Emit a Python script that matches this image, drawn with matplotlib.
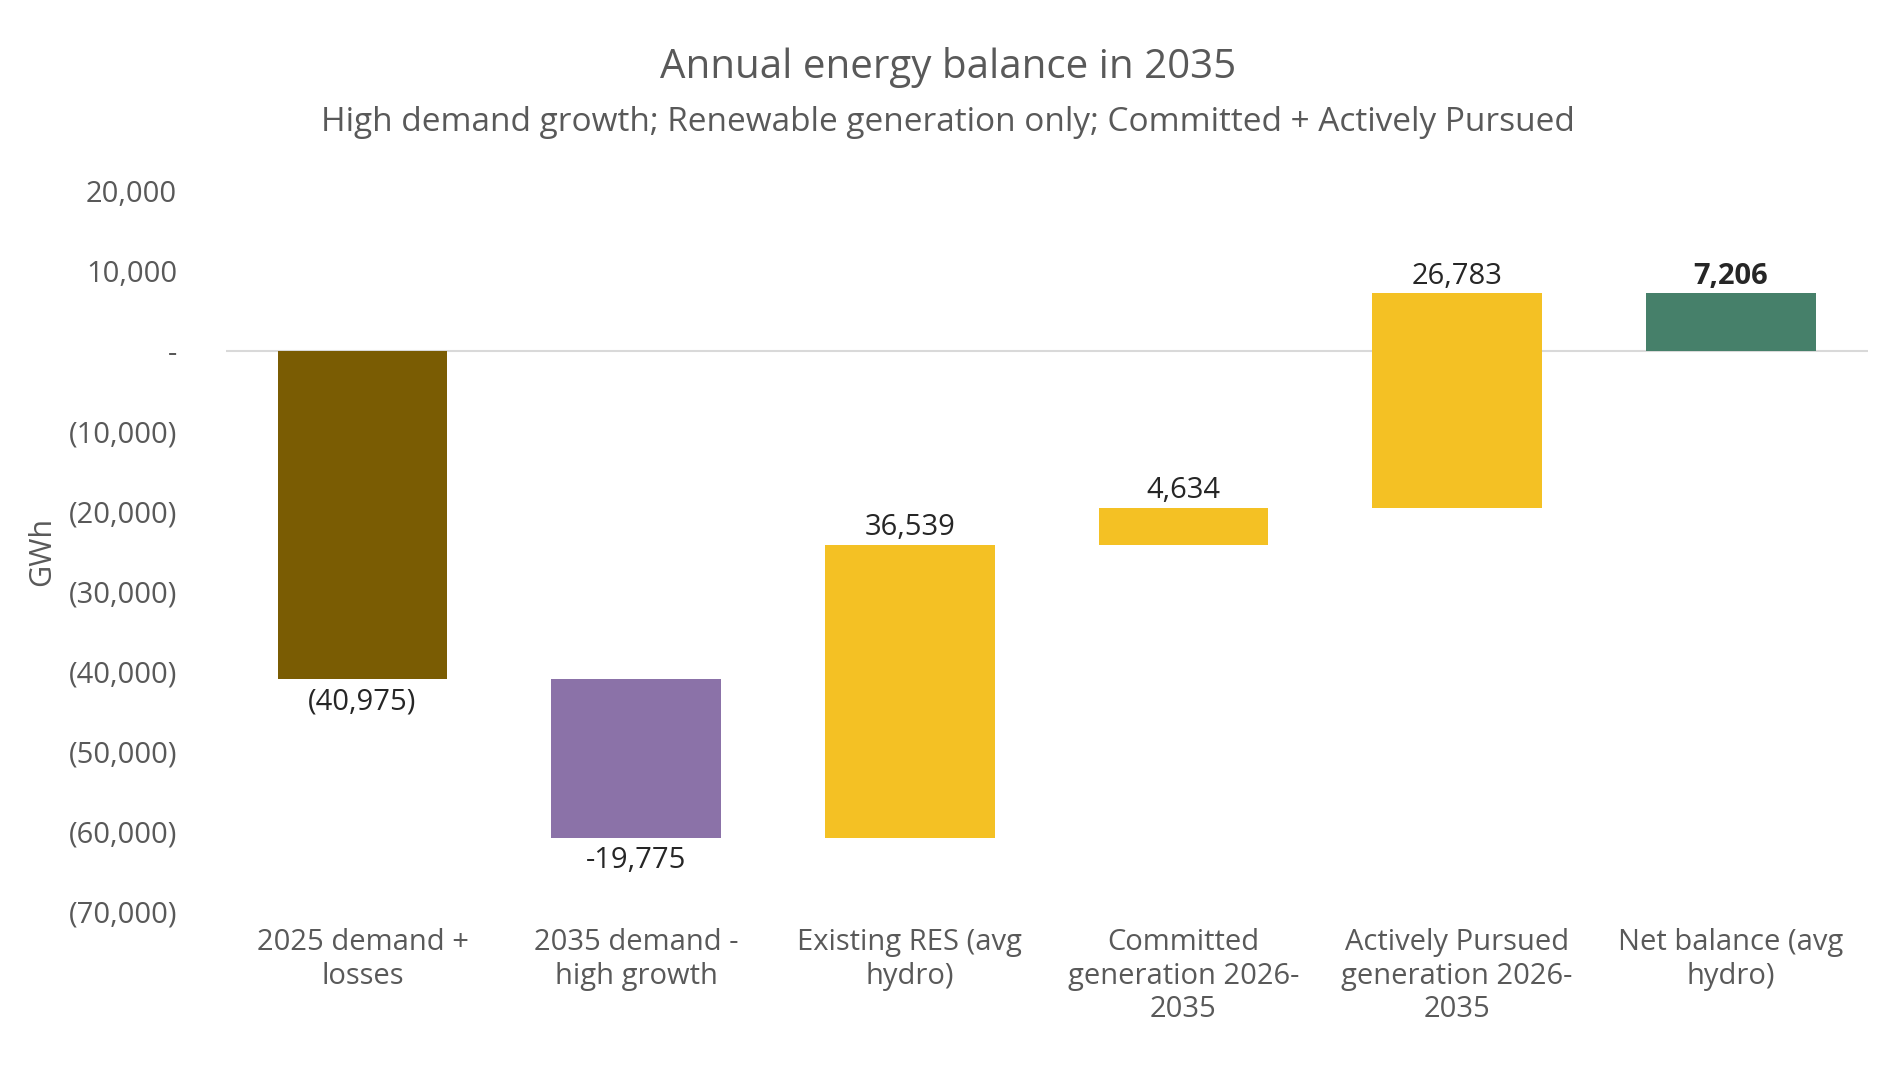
import matplotlib.pyplot as plt
import numpy as np

plt.rcParams['font.family'] = ['Open Sans', 'DejaVu Sans']

categories = ['2025 demand +\nlosses', '2035 demand -\nhigh growth', 'Existing RES (avg\nhydro)',
              'Committed\ngeneration 2026-\n2035', 'Actively Pursued\ngeneration 2026-\n2035',
              'Net balance (avg\nhydro)']
steps = [-40975, -19775, 36539, 4634, 26783]
net = 7206
labels = ['(40,975)', '-19,775', '36,539', '4,634', '26,783', '7,206']
colors = ['#7A5C03', '#8B72A8', '#F4C124', '#F4C124', '#F4C124', '#46806A']

starts = np.concatenate([[0], np.cumsum(steps)[:-1]])
ends = np.cumsum(steps)
bottoms = list(np.minimum(starts, ends)) + [0]
heights = list(np.abs(steps)) + [net]

fig = plt.figure(figsize=(18.96, 10.84), dpi=100)
ax = fig.add_axes([0.119, 0.159, 0.866, 0.665])
x = np.arange(len(categories))
ax.bar(x, heights, bottom=bottoms, width=0.62, color=colors, zorder=2)
ax.axhline(0, color='#D9D9D9', lw=1.5, zorder=1)

for i in range(len(categories)):
    top = bottoms[i] + heights[i]
    if i < 2:
        ax.text(i, bottoms[i] - 1000, labels[i], ha='center', va='top', fontsize=21, color='#262626')
    else:
        ax.text(i, top + 300, labels[i], ha='center', va='bottom', fontsize=21, color='#262626',
                fontweight='bold' if i == 5 else 'normal')

ax.set_ylim(-70000, 20000)
ax.set_xlim(-0.5, 5.5)
ticks = np.arange(-70000, 20001, 10000)
ax.set_yticks(ticks)
ax.set_yticklabels(['-' if t == 0 else (f'({-t:,})' if t < 0 else f'{t:,}') for t in ticks])
ax.set_xticks(x)
ax.set_xticklabels(categories)
ax.tick_params(length=0, labelsize=21, colors='#595959', pad=12)
ax.tick_params(axis='y', pad=35)
ax.set_ylabel('GWh', fontsize=22, color='#595959', labelpad=8)
for s in ax.spines.values():
    s.set_visible(False)

fig.text(0.5, 0.938, 'Annual energy balance in 2035', ha='center', va='center', fontsize=29, color='#595959')
fig.text(0.5, 0.887, 'High demand growth; Renewable generation only; Committed + Actively Pursued',
         ha='center', va='center', fontsize=24, color='#595959')

fig.savefig('out.png')
